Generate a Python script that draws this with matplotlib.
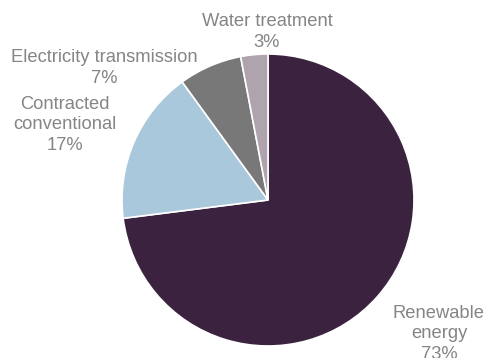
import matplotlib.pyplot as plt

# data
categories = ['Renewable\nenergy', 'Contracted\nconventional', 'Electricity transmission', 'Water treatment']
shares = [73, 17, 7, 3]
colors = ['#3b2340', '#a9c8dc', '#787878', '#afa3ae']

# label centres in pixel coords (x, y from top)
label_pos = [(439, 334), (65, 125), (104, 68), (267, 32)]

plt.rcParams['font.family'] = ['Liberation Sans', 'DejaVu Sans']

fig = plt.figure(figsize=(4.89, 3.58), dpi=100)
ax = fig.add_axes([0, 0, 1, 1])
ax.pie(shares, colors=colors, startangle=90, counterclock=False,
       center=(268, 358 - 200), radius=146,
       wedgeprops=dict(edgecolor='white', linewidth=1.2))

for cat, v, (x, y) in zip(categories, shares, label_pos):
    ax.text(x, 358 - y, f'{cat}\n{v}%', ha='center', va='center',
            fontsize=13.2, color='#858585', linespacing=1.3)

ax.set_xlim(0, 489)
ax.set_ylim(0, 358)
ax.axis('off')
fig.savefig('out.png', dpi=100)
